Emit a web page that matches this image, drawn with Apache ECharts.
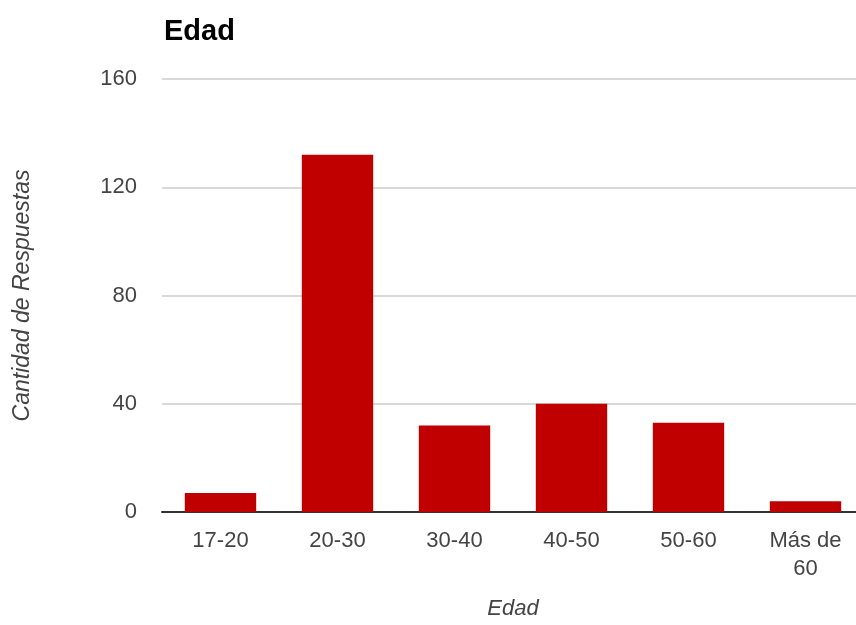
<!DOCTYPE html>
<html>
<head>
    <meta charset="UTF-8">
    <title>Edad</title>
    <style type="text/css">
        html, body { margin: 0; padding: 0; background: #fff; }
        #main1 { width: 856px; height: 625px; }
    </style>
</head>
<body>
<div id="main1"></div>
<script type="text/javascript" src="https://cdn.jsdelivr.net/npm/echarts@6/dist/echarts.min.js"></script>
<script type="text/javascript">
    // datos
    var categorias = ['17-20', '20-30', '30-40', '40-50', '50-60', 'Más de\n60'];
    var respuestas = [7, 132, 32, 40, 33, 4];
    var ejeY = [0, 40, 80, 120, 160];

    var fuente = 'Arial, "Liberation Sans", sans-serif';
    var myChart1 = echarts.init(document.getElementById('main1'));
    var option1 = {
        animation: false,
        title: {
            text: 'Edad',
            left: 159,
            top: 12,
            textStyle: { fontFamily: fuente, fontSize: 29, fontWeight: 'bold', color: '#000' }
        },
        grid: { left: 162, width: 702, top: 79, height: 433, outerBoundsMode: 'none', containLabel: false },
        xAxis: {
            type: 'category',
            data: categorias,
            name: 'Edad',
            nameLocation: 'middle',
            nameGap: 86,
            nameTextStyle: { fontFamily: fuente, fontSize: 22, fontStyle: 'italic', color: '#444' },
            axisLine: { lineStyle: { color: '#333', width: 2 } },
            axisTick: { show: false },
            axisLabel: { fontFamily: fuente, fontSize: 22, color: '#444', margin: 15, lineHeight: 28, interval: 0 }
        },
        yAxis: {
            type: 'value',
            min: ejeY[0],
            max: ejeY[ejeY.length - 1],
            interval: 40,
            name: 'Cantidad de Respuestas',
            nameLocation: 'middle',
            nameGap: 128,
            nameTextStyle: { fontFamily: fuente, fontSize: 23, fontStyle: 'italic', color: '#444' },
            axisLine: { show: false },
            axisTick: { show: false },
            axisLabel: { fontFamily: fuente, fontSize: 22, color: '#444', margin: 25 },
            splitLine: { lineStyle: { color: '#cccccc', width: 1.5 } }
        },
        series: [{
            name: 'Edad',
            type: 'bar',
            data: respuestas,
            barCategoryGap: '39%',
            itemStyle: { color: '#c00000' }
        }]
    };
    myChart1.setOption(option1);
</script>
</body>
</html>
